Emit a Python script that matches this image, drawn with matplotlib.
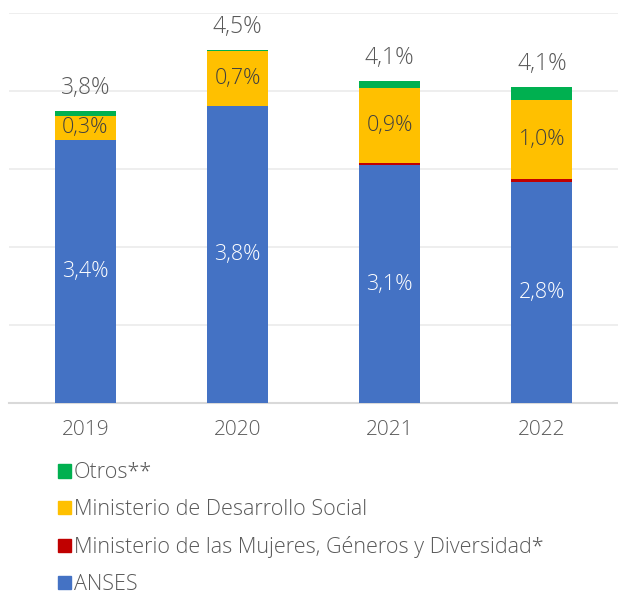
import numpy as np
from matplotlib import pyplot as plt
from matplotlib.patches import Patch

years = ['2019', '2020', '2021', '2022']
anses = [3.38, 3.81, 3.05, 2.83]
mujeres = [0.0, 0.0, 0.035, 0.05]
desarrollo = [0.30, 0.70, 0.95, 1.01]
otros = [0.07, 0.015, 0.10, 0.165]

anses_labels = ['3,4%', '3,8%', '3,1%', '2,8%']
desarrollo_labels = ['0,3%', '0,7%', '0,9%', '1,0%']
total_labels = ['3,8%', '4,5%', '4,1%', '4,1%']

c_anses = '#4472C4'
c_mujeres = '#C00000'
c_desarrollo = '#FFC000'
c_otros = '#00B050'
txt = '#595959'

plt.rcParams['font.family'] = ['Open Sans', 'DejaVu Sans']
plt.rcParams['font.weight'] = 'light'

fig = plt.figure(figsize=(6.18, 5.99), dpi=100)
ax = fig.add_axes([0.015, 0.327, 0.985, 0.651])

x = np.arange(len(years))
w = 0.4
b1 = np.array(anses)
b2 = b1 + np.array(mujeres)
b3 = b2 + np.array(desarrollo)
tops = b3 + np.array(otros)

ax.bar(x, anses, w, color=c_anses, zorder=3)
ax.bar(x, mujeres, w, bottom=b1, color=c_mujeres, zorder=3)
ax.bar(x, desarrollo, w, bottom=b2, color=c_desarrollo, zorder=3)
ax.bar(x, otros, w, bottom=b3, color=c_otros, zorder=3)

for i in range(len(years)):
    ax.text(x[i], anses[i] / 2, anses_labels[i], ha='center', va='center',
            color='white', fontsize=15.5, zorder=4)
    ax.text(x[i], b2[i] + desarrollo[i] / 2, desarrollo_labels[i], ha='center',
            va='center', color='#404040', fontsize=15.5, zorder=4)
    ax.annotate(total_labels[i], (x[i], tops[i]), xytext=(0, 8),
                textcoords='offset points', ha='center', va='bottom',
                color=txt, fontsize=16.5)

ax.set_xlim(-0.5, 3.5)
ax.set_ylim(0, 5)
ax.set_yticks([1, 2, 3, 4, 5])
ax.yaxis.grid(True, color='#ebebeb', linewidth=1.2, zorder=0)
ax.set_yticklabels([])
ax.tick_params(axis='y', length=0)
ax.set_xticks(x)
ax.set_xticklabels(years, color=txt, fontsize=15)
ax.tick_params(axis='x', length=0, pad=12)
for s in ['top', 'right', 'left']:
    ax.spines[s].set_visible(False)
ax.spines['bottom'].set_color('#d9d9d9')
ax.spines['bottom'].set_linewidth(1.5)

handles = [Patch(color=c_otros), Patch(color=c_desarrollo),
           Patch(color=c_mujeres), Patch(color=c_anses)]
labels = ['Otros**', 'Ministerio de Desarrollo Social',
          'Ministerio de las Mujeres, Géneros y Diversidad*', 'ANSES']
leg = fig.legend(handles, labels, loc='upper left', bbox_to_anchor=(0.094, 0.228),
                 frameon=False, handlelength=0.58, handleheight=0.58,
                 handletextpad=0.15, labelspacing=0.74, fontsize=15.5,
                 borderaxespad=0, borderpad=0)
for t in leg.get_texts():
    t.set_color(txt)

fig.savefig('out.png', dpi=100)
